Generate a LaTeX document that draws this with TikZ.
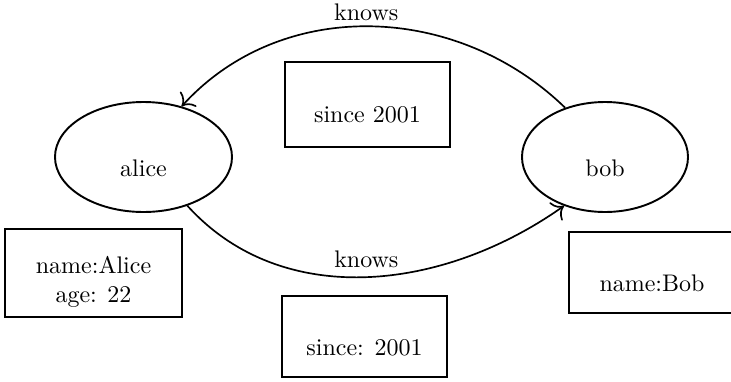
\documentclass[tikz,border=0pt]{standalone}
\usetikzlibrary{shapes.geometric, arrows.meta}
\begin{document}
\begin{tikzpicture}[x=0.41667pt, y=-0.41667pt,
  vertex/.style={ellipse, draw, line width=0.8pt, inner sep=0pt},
  propbox/.style={rectangle, draw, line width=0.8pt, inner sep=0pt},
  caption/.style={inner sep=0pt, align=center},
  rel/.style={-{To[scale=1.4]}, line width=0.7pt}]
  \clip (0,0) rectangle (731,381);

  % vertices
  \node[vertex, minimum width=73.75pt, minimum height=45.83pt] (alice) at (143.5,157) {};
  \node[caption] (alicetxt) at (143.5,168) {alice};
  \node[vertex, minimum width=69.17pt, minimum height=45.83pt] (bob) at (605,157) {};
  \node[caption] (bobtxt) at (605,168) {bob};

  % vertex properties
  \node[propbox, minimum width=73.75pt, minimum height=36.67pt] (aliceprops) at (93.5,273) {};
  \node[caption] (alicepropstxt) at (93.5,282) {name:Alice\\age: 22};
  \node[propbox, minimum width=69.17pt, minimum height=33.75pt] (bobprops) at (652,272.5) {};
  \node[caption] (bobpropstxt) at (652,283) {name:Bob};

  % edge properties
  \node[propbox, minimum width=68.75pt, minimum height=35.4pt] (topprops) at (367.5,104.5) {};
  \node[caption] (toppropstxt) at (367.5,115) {since 2001};
  \node[propbox, minimum width=68.75pt, minimum height=33.75pt] (botprops) at (364.5,336.5) {};
  \node[caption] (botpropstxt) at (364.5,348) {since: 2001};

  % edges
  \draw[rel] (bob.129) .. controls +(-108,-105) and +(100,-110) .. (alice.53)
    node[pos=0.51, above, yshift=-1.5pt] (toplabel) {knows};
  \draw[rel] (alice.-48.5) .. controls +(95,105) and +(-120,85) .. (bob.-130)
    node[pos=0.5, above] (botlabel) {knows};
\end{tikzpicture}
\end{document}
